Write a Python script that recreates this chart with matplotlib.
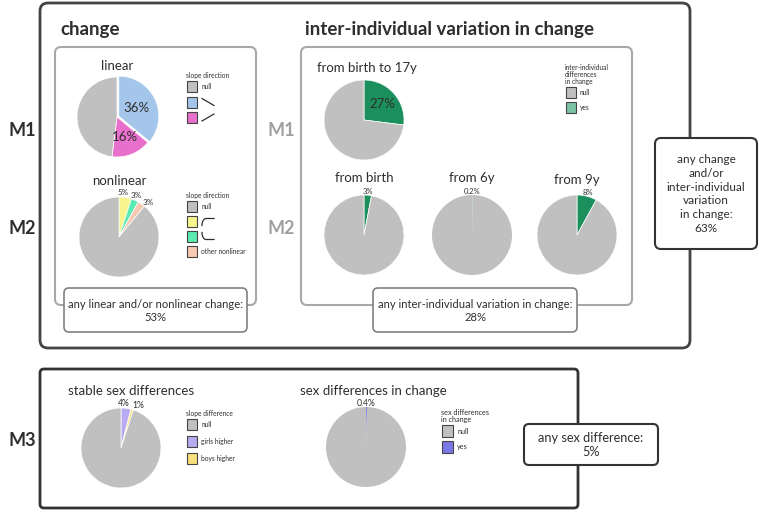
import numpy as np
import matplotlib.pyplot as plt
from matplotlib.patches import FancyBboxPatch, Rectangle

plt.rcParams['font.family'] = ['Lato', 'DejaVu Sans']

W, H = 764, 515

# pie data (first slices clockwise from 12 o'clock, null last)
linear_vals = [36, 16, 48]
nonlinear_vals = [5, 3, 3, 89]
birth17_vals = [27, 73]
birth_vals = [3, 97]
from6_vals = [0.2, 99.8]
from9_vals = [8, 92]
stable_sex_vals = [4, 1, 95]
sex_change_vals = [0.4, 99.6]

slope_labels = ['null', '', '']
nonlin_labels = ['null', '', '', 'other nonlinear']
indiv_labels = ['null', 'yes']
sexdiff_labels = ['null', 'girls higher', 'boys higher']

summary_change = 53
summary_indiv = 28
summary_any = 63
summary_sex = 5

GRAY = '#c0c0c0'
DARK = '#2e2e2e'

fig = plt.figure(figsize=(W / 100, H / 100), dpi=100)
ax = fig.add_axes([0, 0, 1, 1])
ax.set_xlim(0, W)
ax.set_ylim(H, 0)
ax.axis('off')


def rbox(x0, y0, x1, y1, ec, lw, rs=6, fc='none', z=1):
    ax.add_patch(FancyBboxPatch((x0, y0), x1 - x0, y1 - y0,
                                boxstyle='round,pad=0,rounding_size=%g' % rs,
                                fc=fc, ec=ec, lw=lw, zorder=z))


def pie(cx, cy, vals, cols, dist=1.12, fs=5.5, explode=None, nudge=None,
        ew=0.5, r=40):
    lim = 1.08
    pa = fig.add_axes([(cx - r * lim) / W, 1 - (cy + r * lim) / H,
                       2 * r * lim / W, 2 * r * lim / H])
    wedges, _ = pa.pie(vals, colors=cols, startangle=90, counterclock=False,
                       explode=explode,
                       wedgeprops=dict(edgecolor='white', linewidth=ew))
    pa.set_xlim(-lim, lim)
    pa.set_ylim(-lim, lim)
    pa.axis('off')
    if nudge is None:
        nudge = [(0, 0)] * len(vals)
    for w, v, (dx, dy) in zip(wedges[:-1], vals[:-1], nudge):
        a = np.deg2rad((w.theta1 + w.theta2) / 2)
        pa.text(dist * np.cos(a) + dx, dist * np.sin(a) + dy, '%g%%' % v,
                fontsize=fs, color=DARK, ha='center', va='center')


def legend(x, y, title, labels, cols, step, fs=4.8, sq=10):
    ax.text(x, y, title, fontsize=fs, color=DARK, va='top', ha='left',
            linespacing=1.0)
    nl = title.count('\n') + 1
    y0 = y + 7 * nl + 2
    for i, (lab, c) in enumerate(zip(labels, cols)):
        yy = y0 + i * step
        ax.add_patch(Rectangle((x + 1, yy), sq, sq + 1, fc=c, ec='#444444',
                               lw=0.8))
        ax.text(x + sq + 5, yy + sq / 2 + 0.5, lab, fontsize=fs, color=DARK,
                va='center', ha='left')
    return y0


# ---- frames
rbox(40, 3, 690, 348, '#444444', 2.0, rs=8)
rbox(55, 47, 256, 305, '#a8a8a8', 1.5, rs=6)
rbox(301, 47, 632, 305, '#a8a8a8', 1.5, rs=6)
rbox(40, 369, 578, 508, '#333333', 2.0, rs=4)

rbox(64, 288, 247, 332, '#808080', 1.2, rs=5, fc='white', z=3)
ax.text(155.5, 311, 'any linear and/or nonlinear change:\n%d%%' % summary_change,
        fontsize=8.1, color=DARK, ha='center', va='center', zorder=4,
        linespacing=1.25)
rbox(373, 288, 577, 332, '#808080', 1.2, rs=5, fc='white', z=3)
ax.text(475, 311, 'any inter-individual variation in change:\n%d%%' % summary_indiv,
        fontsize=8.1, color=DARK, ha='center', va='center', zorder=4,
        linespacing=1.25)

rbox(655, 138, 757, 249, '#333333', 1.5, rs=6, fc='white', z=3)
ax.text(706, 194, 'any change\nand/or\ninter-individual\nvariation\nin change:\n%d%%' % summary_any,
        fontsize=8.5, color=DARK, ha='center', va='center', zorder=4,
        linespacing=1.3)

rbox(524, 424, 658, 465, '#333333', 1.5, rs=5, fc='white', z=3)
ax.text(591, 445, 'any sex difference:\n%d%%' % summary_sex,
        fontsize=9.2, color=DARK, ha='center', va='center', zorder=4,
        linespacing=1.2)

# ---- section titles and row labels
ax.text(60, 29, 'change', fontsize=13.5, fontweight='bold', color=DARK,
        va='center', ha='left')
ax.text(305, 29, 'inter-individual variation in change', fontsize=13.5,
        fontweight='bold', color=DARK, va='center', ha='left')
for lab, yy in [('M1', 130), ('M2', 228), ('M3', 440)]:
    ax.text(22, yy, lab, fontsize=13, fontweight='bold', color=DARK,
            ha='center', va='center')
for lab, yy in [('M1', 130), ('M2', 228)]:
    ax.text(281, yy, lab, fontsize=13, fontweight='bold', color='#a0a0a0',
            ha='center', va='center')

# ---- pie titles
ax.text(117, 66, 'linear', fontsize=9.5, color=DARK, ha='center', va='center')
ax.text(119, 181, 'nonlinear', fontsize=9.5, color=DARK, ha='center', va='center')
ax.text(317, 68, 'from birth to 17y', fontsize=9.5, color=DARK, ha='left', va='center')
ax.text(364, 178, 'from birth', fontsize=9.5, color=DARK, ha='center', va='center')
ax.text(472, 178, 'from 6y', fontsize=9.5, color=DARK, ha='center', va='center')
ax.text(577, 180, 'from 9y', fontsize=9.5, color=DARK, ha='center', va='center')
ax.text(68, 391, 'stable sex differences', fontsize=9.5, color=DARK, ha='left', va='center')
ax.text(300, 391, 'sex differences in change', fontsize=9.5, color=DARK, ha='left', va='center')

# ---- pies
BLUE, PINK = '#a3c6ea', '#e86fcb'
YEL, MINT, PEACH = '#f7f58c', '#5cebb0', '#f5c9b2'
GREEN = '#1b8f5c'
PURP, BOYS, SEXC = '#b9abf2', '#f8e07a', '#7878e6'

pie(117, 117, linear_vals, [BLUE, PINK, GRAY], dist=0.55, fs=9.5,
    explode=[0.05, 0, 0])
pie(119, 237, nonlinear_vals, [YEL, MINT, PEACH, GRAY], dist=1.1, fs=5.8,
    nudge=[(-0.06, 0.02), (0, 0.02), (0.12, -0.04)])
pie(364, 120, birth17_vals, [GREEN, GRAY], dist=0.6, fs=9.5)
pie(364, 235, birth_vals, [GREEN, GRAY], dist=1.1)
pie(472, 235, from6_vals, ['#7cc8ae', GRAY], dist=1.1, ew=0)
pie(577, 235, from9_vals, [GREEN, GRAY], dist=1.1)
pie(121, 448, stable_sex_vals, [PURP, BOYS, GRAY], dist=1.1, fs=6.2,
    nudge=[(-0.08, 0.02), (0.12, 0)])
pie(366, 447, sex_change_vals, [SEXC, GRAY], dist=1.1, fs=6.2, ew=0)

# ---- legends
gx = np.array([202, 214])
y0 = legend(186, 72, 'slope direction', slope_labels, [GRAY, BLUE, PINK], 15.5)
ax.plot(gx, [y0 + 15.5 + 2, y0 + 15.5 + 9], color=DARK, lw=0.9)
ax.plot(gx, [y0 + 31 + 9, y0 + 31 + 2], color=DARK, lw=0.9)

y0 = legend(186, 192, 'slope direction', nonlin_labels, [GRAY, YEL, MINT, PEACH], 15)
t = np.linspace(0, np.pi / 2, 12)
bend_x = np.r_[202 + 4 * (1 - np.cos(t)), 214]
yc = y0 + 15 + 5.5
ax.plot(bend_x, np.r_[(yc + 4) - 7 * np.sin(t), yc - 3], color=DARK, lw=0.9)
yc = y0 + 30 + 5.5
ax.plot(bend_x, np.r_[(yc - 4) + 7 * np.sin(t), yc + 3], color=DARK, lw=0.9)

legend(565, 64, 'inter-individual\ndifferences\nin change', indiv_labels,
       [GRAY, '#7cc3a6'], 15)
legend(186, 410, 'slope difference', sexdiff_labels, [GRAY, PURP, BOYS], 17)
legend(441, 409, 'sex differences\nin change', indiv_labels, [GRAY, SEXC], 16,
       fs=5.2, sq=11)

fig.savefig('out.png', dpi=100)
